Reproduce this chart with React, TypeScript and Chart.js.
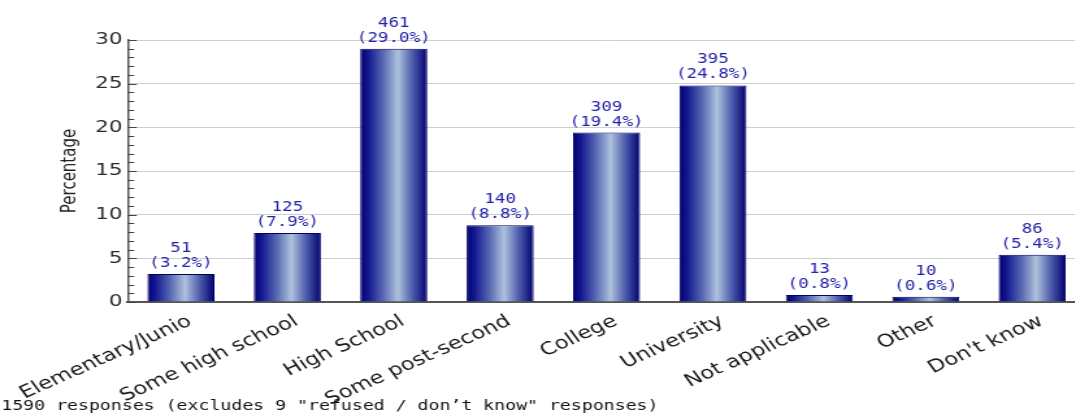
import { useEffect, useRef } from "react";
import { Chart, registerables } from "chart.js";

Chart.register(...registerables);

// Education level categories and survey results
const categories = [
  "Elementary/Junio",
  "Some high school",
  "High School",
  "Some post-second",
  "College",
  "University",
  "Not applicable",
  "Other",
  "Don't know",
];
const responseCounts = [51, 125, 461, 140, 309, 395, 13, 10, 86];
const percentages = [3.2, 7.9, 29.0, 8.8, 19.4, 24.8, 0.8, 0.6, 5.4];
const yTickStep = 5;
const yMax = 30;
const footnote = "1590 responses (excludes 9 \"refused / don\u2019t know\" responses)";

// The chart is rendered on a narrower bitmap and widened with CSS,
// which gives the wide letterforms of the original graphic.
const STRETCH = 1.3;
const CANVAS_W = 838;
const CANVAS_H = 414;
const AXIS_LEFT = 98.3;
const AREA_RIGHT = 835.2;
const AREA_TOP = 40;
const AREA_BOTTOM = 302;
const BAR_PCT = 0.63;

const monoFont = '"DejaVu Sans Mono", monospace';
const sansFont = '"DejaVu Sans", Verdana, sans-serif';

function barGradient(context: any) {
  const chart = context.chart;
  const xScale = chart.scales?.x;
  if (!xScale || !chart.chartArea) return "#1a1a8a";
  const cx = xScale.getPixelForValue(context.dataIndex);
  const half = (xScale.width / categories.length) * BAR_PCT / 2;
  const g = chart.ctx.createLinearGradient(cx - half, 0, cx + half, 0);
  g.addColorStop(0, "#00006e");
  g.addColorStop(0.12, "#141890");
  g.addColorStop(0.35, "#5a6cb4");
  g.addColorStop(0.56, "#aec2dc");
  g.addColorStop(0.78, "#4d5cac");
  g.addColorStop(1, "#00006e");
  return g;
}

const valueLabels = {
  id: "valueLabels",
  afterDatasetsDraw(chart: any) {
    const { ctx } = chart;
    const meta = chart.getDatasetMeta(0);
    ctx.save();
    ctx.font = `13.5px ${monoFont}`;
    ctx.fillStyle = "#2222a8";
    ctx.textAlign = "center";
    ctx.textBaseline = "alphabetic";
    meta.data.forEach((bar: any, i: number) => {
      const { x, y } = bar.getProps(["x", "y"], true);
      ctx.fillText(String(responseCounts[i]), x, y - 22);
      ctx.fillText(`(${percentages[i].toFixed(1)}%)`, x, y - 7);
    });
    ctx.restore();
  },
};

const axisTicks = {
  id: "axisTicks",
  afterDraw(chart: any) {
    const { ctx, chartArea } = chart;
    const y = chart.scales.y;
    ctx.save();
    ctx.strokeStyle = "#444";
    ctx.lineWidth = 1;
    for (let v = 0; v <= yMax; v++) {
      const py = Math.round(y.getPixelForValue(v)) + 0.5;
      const len = v % yTickStep === 0 ? 7 : 5;
      ctx.beginPath();
      ctx.moveTo(chartArea.left, py);
      ctx.lineTo(chartArea.left + len, py);
      ctx.stroke();
    }
    // response note along the bottom edge
    ctx.font = `14px ${monoFont}`;
    ctx.fillStyle = "#111";
    ctx.textAlign = "left";
    ctx.textBaseline = "alphabetic";
    ctx.fillText(footnote, 1, 410);
    ctx.restore();
  },
};

export default function App() {
  const canvasRef = useRef<HTMLCanvasElement | null>(null);

  useEffect(() => {
    document.body.style.margin = "0";
    const canvas = canvasRef.current;
    if (!canvas) return;
    const chart = new Chart(canvas, {
      type: "bar",
      data: {
        labels: categories,
        datasets: [
          {
            data: percentages,
            backgroundColor: barGradient,
            borderColor: "#000066",
            borderWidth: 1,
            barPercentage: BAR_PCT,
            categoryPercentage: 1,
          },
        ],
      },
      options: {
        responsive: false,
        animation: false,
        layout: {
          padding: { left: 0, right: CANVAS_W - AREA_RIGHT, top: AREA_TOP, bottom: 0 },
        },
        plugins: {
          legend: { display: false },
          tooltip: { enabled: false },
        },
        scales: {
          x: {
            grid: { display: false },
            border: { display: true, color: "#555", width: 2 },
            ticks: {
              minRotation: 30,
              maxRotation: 30,
              autoSkip: false,
              padding: 1,
              labelOffset: 7,
              color: "#1a1a1a",
              font: { family: sansFont, size: 17.5 },
            },
            afterFit(scale: any) {
              scale.height = CANVAS_H - AREA_BOTTOM;
            },
          },
          y: {
            min: 0,
            max: yMax,
            grid: { color: "#cfcfcf", lineWidth: 1, drawTicks: false },
            border: { display: true, color: "#555", width: 1.5 },
            ticks: {
              stepSize: yTickStep,
              padding: 4,
              color: "#2a2a2a",
              font: { family: sansFont, size: 16.5 },
            },
            title: {
              display: true,
              text: "Percentage",
              color: "#222",
              font: { family: sansFont, size: 15 },
              padding: { top: 45.6, bottom: 0 },
            },
            afterFit(scale: any) {
              scale.width = AXIS_LEFT;
            },
          },
        },
      },
      plugins: [valueLabels, axisTicks],
    });
    return () => chart.destroy();
  }, []);

  return (
    <div style={{ position: "relative", width: 1075, height: CANVAS_H, overflow: "hidden", background: "#fff" }}>
      <canvas
        ref={canvasRef}
        width={CANVAS_W}
        height={CANVAS_H}
        style={{ width: `${CANVAS_W * STRETCH}px`, height: `${CANVAS_H}px`, display: "block" }}
      />
    </div>
  );
}
